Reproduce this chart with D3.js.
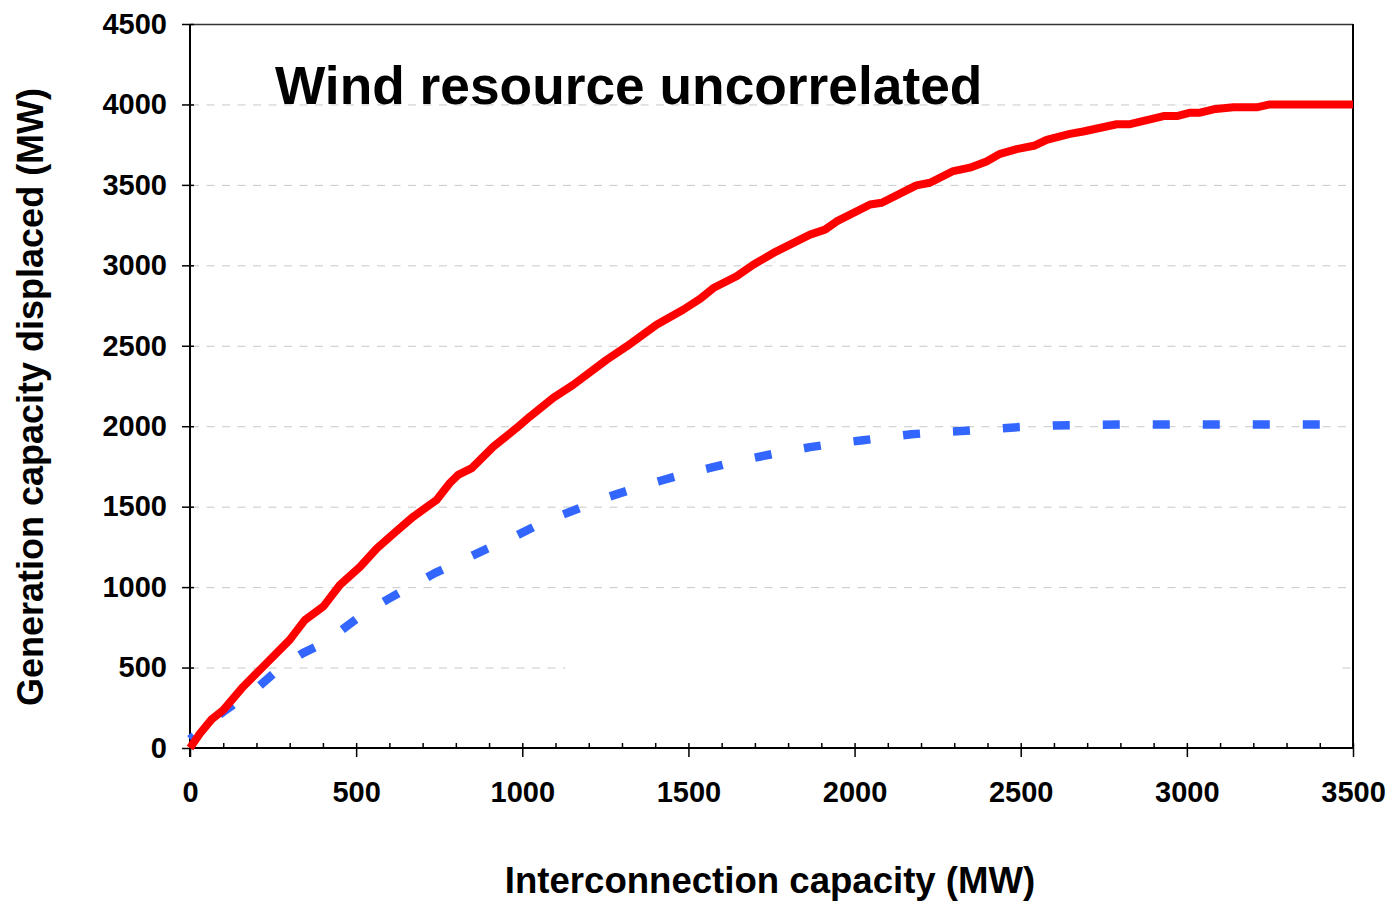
<!DOCTYPE html>
<html>
<head>
<meta charset="utf-8">
<script src="https://cdn.jsdelivr.net/npm/d3@7/dist/d3.min.js"></script>
<style>
  html, body { margin: 0; padding: 0; background: #fff; }
  svg { display: block; }
  text { font-family: "Liberation Sans", Arial, sans-serif; font-weight: bold; fill: #000; }
</style>
</head>
<body>
<svg id="chart" width="1391" height="901"></svg>
<script>
// ---- data ----
const correlatedX = [0, 30, 65, 100, 160, 210, 300, 346, 401, 451, 512, 562, 620, 672, 742, 782, 807, 848, 913, 983, 1023, 1093, 1153, 1254, 1314, 1404, 1484, 1535, 1575, 1645, 1695, 1765, 1866, 1911, 1946, 2047, 2082, 2186, 2227, 2297, 2347, 2397, 2438, 2488, 2543, 2578, 2648, 2688, 2789, 2829, 2930, 2970, 3010, 3040, 3080, 3140, 3210, 3250, 3500];
const redValues   = [0, 90, 178, 236, 381, 485, 672, 796, 879, 1013, 1127, 1240, 1345, 1438, 1542, 1647, 1698, 1740, 1873, 1989, 2060, 2176, 2257, 2413, 2496, 2631, 2724, 2792, 2859, 2932, 3004, 3087, 3191, 3222, 3273, 3378, 3389, 3497, 3513, 3586, 3607, 3646, 3693, 3722, 3745, 3780, 3817, 3832, 3877, 3877, 3928, 3928, 3949, 3949, 3970, 3982, 3982, 4000, 4000];
const blueX       = [0, 50, 100, 150, 200, 276, 340, 411, 470, 531, 600, 672, 740, 812, 890, 969, 1040, 1120, 1190, 1264, 1340, 1416, 1490, 1568, 1640, 1717, 1790, 1866, 1940, 2019, 2100, 2171, 2250, 2321, 2400, 2500, 2600, 2800, 3000, 3200, 3400];
const blueValues  = [55, 145, 225, 298, 370, 506, 590, 661, 755, 848, 930, 1014, 1090, 1159, 1235, 1306, 1380, 1449, 1505, 1564, 1615, 1661, 1705, 1742, 1780, 1812, 1842, 1870, 1892, 1911, 1932, 1950, 1962, 1970, 1982, 1995, 2005, 2010, 2010, 2010, 2010];
const xTicks = [0, 500, 1000, 1500, 2000, 2500, 3000, 3500];
const yTicks = [0, 500, 1000, 1500, 2000, 2500, 3000, 3500, 4000, 4500];
const titleText = "Wind resource uncorrelated";
const xTitle = "Interconnection capacity (MW)";
const yTitle = "Generation capacity displaced (MW)";

// ---- layout ----
const L = 190, R = 1353, T = 24, B = 748;
const svg = d3.select("#chart");
const x = d3.scaleLinear().domain([0, 3500]).range([L, R]);
const y = d3.scaleLinear().domain([0, 4500]).range([B, T]);

// gridlines (the 500 line is broken in the original picture)
const gridSegs = [];
yTicks.filter(d => d > 0 && d < 4500).forEach(d => {
  if (d === 500) { gridSegs.push([d, 0, 1130]); gridSegs.push([d, 3465, 3500]); }
  else gridSegs.push([d, 0, 3500]);
});
svg.append("g").selectAll("line")
  .data(gridSegs)
  .join("line")
  .attr("x1", d => x(d[1]) + 1).attr("x2", d => x(d[2]))
  .attr("y1", d => y(d[0]) + 0.5).attr("y2", d => y(d[0]) + 0.5)
  .attr("stroke", "#c8c8c8").attr("stroke-width", 1)
  .attr("stroke-dasharray", "8,7.5");

// frame (top & right)
svg.append("line").attr("x1", L).attr("x2", R).attr("y1", T + 0.5).attr("y2", T + 0.5)
  .attr("stroke", "#333").attr("stroke-width", 1.5);
svg.append("line").attr("x1", R).attr("x2", R).attr("y1", T).attr("y2", B)
  .attr("stroke", "#000").attr("stroke-width", 2);

// x axis
const xAxisG = svg.append("g").attr("transform", `translate(0,${B})`);
xAxisG.call(d3.axisBottom(x).tickValues(d3.range(0, 3501, 100)).tickSize(0).tickFormat(""));
xAxisG.select(".domain").remove();
xAxisG.selectAll(".tick line").remove();
xAxisG.selectAll(".tick").append("line")
  .attr("y1", -5)
  .attr("y2", d => (d % 500 === 0 ? 9 : 0))
  .attr("stroke", "#000").attr("stroke-width", 1.5);
const xLab = svg.append("g").attr("transform", `translate(0,${B})`)
  .call(d3.axisBottom(x).tickValues(xTicks).tickSize(0).tickPadding(0).tickFormat(d3.format("d")));
xLab.select(".domain").remove();
xLab.selectAll("text").attr("dy", null).attr("y", 54)
  .style("font-size", "29px").style("font-family", "Liberation Sans, Arial, sans-serif").style("font-weight", "bold").attr("fill", "#000");
svg.append("line").attr("x1", L - 1).attr("x2", R + 1).attr("y1", B).attr("y2", B)
  .attr("stroke", "#000").attr("stroke-width", 2);

// y axis
const yAxisG = svg.append("g").attr("transform", `translate(${L},0)`)
  .call(d3.axisLeft(y).tickValues(yTicks).tickSize(8).tickPadding(15).tickFormat(d3.format("d")));
yAxisG.select(".domain").remove();
yAxisG.selectAll(".tick line").attr("x2", -8).attr("x1", 4).attr("stroke", "#000").attr("stroke-width", 1.5);
yAxisG.selectAll("text")
  .style("font-size", "29px").style("font-family", "Liberation Sans, Arial, sans-serif").style("font-weight", "bold").attr("fill", "#000");
svg.append("line").attr("x1", L).attr("x2", L).attr("y1", T).attr("y2", B + 9)
  .attr("stroke", "#000").attr("stroke-width", 2);

// lines
const blueData = blueX.map((d, i) => [d, blueValues[i]]);
const redData = correlatedX.map((d, i) => [d, redValues[i]]);
const lineGen = d3.line().x(d => x(d[0])).y(d => y(d[1]));

const bluePath = svg.append("path").datum(blueData)
  .attr("d", lineGen)
  .attr("fill", "none").attr("stroke", "#3366ff").attr("stroke-width", 8.5)
  .attr("stroke-linecap", "butt").attr("stroke-linejoin", "miter")
  .attr("stroke-dasharray", "17,33");
const len = bluePath.node().getTotalLength();
const off = ((17 - len) % 50 + 50) % 50;
bluePath.attr("stroke-dashoffset", off);

svg.append("path").datum(redData)
  .attr("d", lineGen)
  .attr("fill", "none").attr("stroke", "#ff0000").attr("stroke-width", 8)
  .attr("stroke-linejoin", "round").attr("stroke-linecap", "butt");

// texts
svg.append("text").attr("x", 275).attr("y", 104)
  .style("font-size", "53.3px").text(titleText);
svg.append("text").attr("x", 770).attr("y", 893).attr("text-anchor", "middle")
  .style("font-size", "36.6px").text(xTitle);
svg.append("text").attr("transform", "translate(43,397) rotate(-90)").attr("text-anchor", "middle")
  .style("font-size", "36px").text(yTitle);
</script>
</body>
</html>
